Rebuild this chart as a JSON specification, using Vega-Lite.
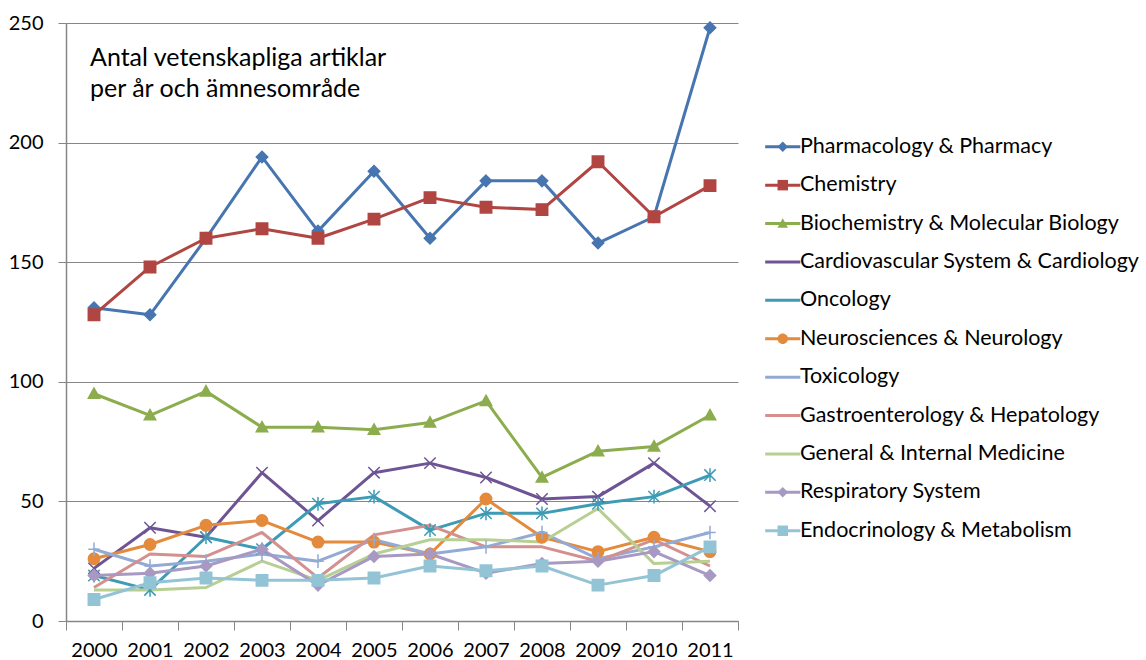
{
  "$schema": "https://vega.github.io/schema/vega-lite/v6.json",
  "width": 672,
  "height": 598,
  "autosize": {"type": "none"},
  "padding": {"left": 66, "top": 23, "right": 408, "bottom": 39},
  "background": "white",
  "config": {
    "font": "Lato",
    "view": {"stroke": null},
    "axis": {"labelFont": "Lato", "labelColor": "#000000", "labelFontSize": 20, "domainColor": "#868686", "tickColor": "#868686", "gridColor": "#868686", "title": null}
  },
  "title": {
    "text": ["Antal vetenskapliga artiklar", "per år och ämnesområde"],
    "anchor": "start",
    "frame": "group",
    "orient": "top",
    "baseline": "top",
    "offset": -11,
    "dx": 24,
    "dy": 78,
    "fontSize": 25,
    "fontWeight": "normal",
    "font": "Lato",
    "color": "#000000",
    "lineHeight": 31
  },
  "data": {
    "values": [
      {"serie": "Pharmacology & Pharmacy", "year": "2000", "value": 131},
      {"serie": "Pharmacology & Pharmacy", "year": "2001", "value": 128},
      {"serie": "Pharmacology & Pharmacy", "year": "2002", "value": 160},
      {"serie": "Pharmacology & Pharmacy", "year": "2003", "value": 194},
      {"serie": "Pharmacology & Pharmacy", "year": "2004", "value": 163},
      {"serie": "Pharmacology & Pharmacy", "year": "2005", "value": 188},
      {"serie": "Pharmacology & Pharmacy", "year": "2006", "value": 160},
      {"serie": "Pharmacology & Pharmacy", "year": "2007", "value": 184},
      {"serie": "Pharmacology & Pharmacy", "year": "2008", "value": 184},
      {"serie": "Pharmacology & Pharmacy", "year": "2009", "value": 158},
      {"serie": "Pharmacology & Pharmacy", "year": "2010", "value": 169},
      {"serie": "Pharmacology & Pharmacy", "year": "2011", "value": 248},
      {"serie": "Chemistry", "year": "2000", "value": 128},
      {"serie": "Chemistry", "year": "2001", "value": 148},
      {"serie": "Chemistry", "year": "2002", "value": 160},
      {"serie": "Chemistry", "year": "2003", "value": 164},
      {"serie": "Chemistry", "year": "2004", "value": 160},
      {"serie": "Chemistry", "year": "2005", "value": 168},
      {"serie": "Chemistry", "year": "2006", "value": 177},
      {"serie": "Chemistry", "year": "2007", "value": 173},
      {"serie": "Chemistry", "year": "2008", "value": 172},
      {"serie": "Chemistry", "year": "2009", "value": 192},
      {"serie": "Chemistry", "year": "2010", "value": 169},
      {"serie": "Chemistry", "year": "2011", "value": 182},
      {"serie": "Biochemistry & Molecular Biology", "year": "2000", "value": 95},
      {"serie": "Biochemistry & Molecular Biology", "year": "2001", "value": 86},
      {"serie": "Biochemistry & Molecular Biology", "year": "2002", "value": 96},
      {"serie": "Biochemistry & Molecular Biology", "year": "2003", "value": 81},
      {"serie": "Biochemistry & Molecular Biology", "year": "2004", "value": 81},
      {"serie": "Biochemistry & Molecular Biology", "year": "2005", "value": 80},
      {"serie": "Biochemistry & Molecular Biology", "year": "2006", "value": 83},
      {"serie": "Biochemistry & Molecular Biology", "year": "2007", "value": 92},
      {"serie": "Biochemistry & Molecular Biology", "year": "2008", "value": 60},
      {"serie": "Biochemistry & Molecular Biology", "year": "2009", "value": 71},
      {"serie": "Biochemistry & Molecular Biology", "year": "2010", "value": 73},
      {"serie": "Biochemistry & Molecular Biology", "year": "2011", "value": 86},
      {"serie": "Cardiovascular System & Cardiology", "year": "2000", "value": 22},
      {"serie": "Cardiovascular System & Cardiology", "year": "2001", "value": 39},
      {"serie": "Cardiovascular System & Cardiology", "year": "2002", "value": 35},
      {"serie": "Cardiovascular System & Cardiology", "year": "2003", "value": 62},
      {"serie": "Cardiovascular System & Cardiology", "year": "2004", "value": 42},
      {"serie": "Cardiovascular System & Cardiology", "year": "2005", "value": 62},
      {"serie": "Cardiovascular System & Cardiology", "year": "2006", "value": 66},
      {"serie": "Cardiovascular System & Cardiology", "year": "2007", "value": 60},
      {"serie": "Cardiovascular System & Cardiology", "year": "2008", "value": 51},
      {"serie": "Cardiovascular System & Cardiology", "year": "2009", "value": 52},
      {"serie": "Cardiovascular System & Cardiology", "year": "2010", "value": 66},
      {"serie": "Cardiovascular System & Cardiology", "year": "2011", "value": 48},
      {"serie": "Oncology", "year": "2000", "value": 19},
      {"serie": "Oncology", "year": "2001", "value": 13},
      {"serie": "Oncology", "year": "2002", "value": 35},
      {"serie": "Oncology", "year": "2003", "value": 30},
      {"serie": "Oncology", "year": "2004", "value": 49},
      {"serie": "Oncology", "year": "2005", "value": 52},
      {"serie": "Oncology", "year": "2006", "value": 38},
      {"serie": "Oncology", "year": "2007", "value": 45},
      {"serie": "Oncology", "year": "2008", "value": 45},
      {"serie": "Oncology", "year": "2009", "value": 49},
      {"serie": "Oncology", "year": "2010", "value": 52},
      {"serie": "Oncology", "year": "2011", "value": 61},
      {"serie": "Neurosciences & Neurology", "year": "2000", "value": 26},
      {"serie": "Neurosciences & Neurology", "year": "2001", "value": 32},
      {"serie": "Neurosciences & Neurology", "year": "2002", "value": 40},
      {"serie": "Neurosciences & Neurology", "year": "2003", "value": 42},
      {"serie": "Neurosciences & Neurology", "year": "2004", "value": 33},
      {"serie": "Neurosciences & Neurology", "year": "2005", "value": 33},
      {"serie": "Neurosciences & Neurology", "year": "2006", "value": 28},
      {"serie": "Neurosciences & Neurology", "year": "2007", "value": 51},
      {"serie": "Neurosciences & Neurology", "year": "2008", "value": 35},
      {"serie": "Neurosciences & Neurology", "year": "2009", "value": 29},
      {"serie": "Neurosciences & Neurology", "year": "2010", "value": 35},
      {"serie": "Neurosciences & Neurology", "year": "2011", "value": 29},
      {"serie": "Toxicology", "year": "2000", "value": 30},
      {"serie": "Toxicology", "year": "2001", "value": 23},
      {"serie": "Toxicology", "year": "2002", "value": 25},
      {"serie": "Toxicology", "year": "2003", "value": 28},
      {"serie": "Toxicology", "year": "2004", "value": 25},
      {"serie": "Toxicology", "year": "2005", "value": 34},
      {"serie": "Toxicology", "year": "2006", "value": 28},
      {"serie": "Toxicology", "year": "2007", "value": 31},
      {"serie": "Toxicology", "year": "2008", "value": 37},
      {"serie": "Toxicology", "year": "2009", "value": 26},
      {"serie": "Toxicology", "year": "2010", "value": 31},
      {"serie": "Toxicology", "year": "2011", "value": 37},
      {"serie": "Gastroenterology & Hepatology", "year": "2000", "value": 14},
      {"serie": "Gastroenterology & Hepatology", "year": "2001", "value": 28},
      {"serie": "Gastroenterology & Hepatology", "year": "2002", "value": 27},
      {"serie": "Gastroenterology & Hepatology", "year": "2003", "value": 37},
      {"serie": "Gastroenterology & Hepatology", "year": "2004", "value": 18},
      {"serie": "Gastroenterology & Hepatology", "year": "2005", "value": 36},
      {"serie": "Gastroenterology & Hepatology", "year": "2006", "value": 40},
      {"serie": "Gastroenterology & Hepatology", "year": "2007", "value": 31},
      {"serie": "Gastroenterology & Hepatology", "year": "2008", "value": 31},
      {"serie": "Gastroenterology & Hepatology", "year": "2009", "value": 25},
      {"serie": "Gastroenterology & Hepatology", "year": "2010", "value": 34},
      {"serie": "Gastroenterology & Hepatology", "year": "2011", "value": 23},
      {"serie": "General & Internal Medicine", "year": "2000", "value": 13},
      {"serie": "General & Internal Medicine", "year": "2001", "value": 13},
      {"serie": "General & Internal Medicine", "year": "2002", "value": 14},
      {"serie": "General & Internal Medicine", "year": "2003", "value": 25},
      {"serie": "General & Internal Medicine", "year": "2004", "value": 17},
      {"serie": "General & Internal Medicine", "year": "2005", "value": 28},
      {"serie": "General & Internal Medicine", "year": "2006", "value": 34},
      {"serie": "General & Internal Medicine", "year": "2007", "value": 34},
      {"serie": "General & Internal Medicine", "year": "2008", "value": 33},
      {"serie": "General & Internal Medicine", "year": "2009", "value": 47},
      {"serie": "General & Internal Medicine", "year": "2010", "value": 24},
      {"serie": "General & Internal Medicine", "year": "2011", "value": 25},
      {"serie": "Respiratory System", "year": "2000", "value": 19},
      {"serie": "Respiratory System", "year": "2001", "value": 20},
      {"serie": "Respiratory System", "year": "2002", "value": 23},
      {"serie": "Respiratory System", "year": "2003", "value": 30},
      {"serie": "Respiratory System", "year": "2004", "value": 15},
      {"serie": "Respiratory System", "year": "2005", "value": 27},
      {"serie": "Respiratory System", "year": "2006", "value": 28},
      {"serie": "Respiratory System", "year": "2007", "value": 20},
      {"serie": "Respiratory System", "year": "2008", "value": 24},
      {"serie": "Respiratory System", "year": "2009", "value": 25},
      {"serie": "Respiratory System", "year": "2010", "value": 29},
      {"serie": "Respiratory System", "year": "2011", "value": 19},
      {"serie": "Endocrinology & Metabolism", "year": "2000", "value": 9},
      {"serie": "Endocrinology & Metabolism", "year": "2001", "value": 16},
      {"serie": "Endocrinology & Metabolism", "year": "2002", "value": 18},
      {"serie": "Endocrinology & Metabolism", "year": "2003", "value": 17},
      {"serie": "Endocrinology & Metabolism", "year": "2004", "value": 17},
      {"serie": "Endocrinology & Metabolism", "year": "2005", "value": 18},
      {"serie": "Endocrinology & Metabolism", "year": "2006", "value": 23},
      {"serie": "Endocrinology & Metabolism", "year": "2007", "value": 21},
      {"serie": "Endocrinology & Metabolism", "year": "2008", "value": 23},
      {"serie": "Endocrinology & Metabolism", "year": "2009", "value": 15},
      {"serie": "Endocrinology & Metabolism", "year": "2010", "value": 19},
      {"serie": "Endocrinology & Metabolism", "year": "2011", "value": 31}
    ]
  },
  "encoding": {
    "x": {
      "field": "year",
      "type": "ordinal",
      "bandPosition": 0.5,
      "scale": {"type": "band", "paddingInner": 0, "paddingOuter": 0},
      "axis": {"labelAngle": 0, "tickBand": "extent", "tickSize": 9, "labelPadding": 10, "grid": false, "domainWidth": 1.5}
    },
    "y": {
      "field": "value",
      "type": "quantitative",
      "scale": {"domain": [0, 250]},
      "axis": {"values": [0, 50, 100, 150, 200, 250], "tickSize": 8, "labelPadding": 15, "grid": true, "gridWidth": 1, "domainWidth": 1.5}
    }
  },
  "resolve": {"legend": {"color": "independent", "shape": "independent"}},
  "layer": [
    {
      "mark": {"type": "line", "strokeWidth": 3, "strokeJoin": "round"},
      "encoding": {
        "color": {
          "field": "serie",
          "type": "nominal",
          "scale": {
            "domain": ["Pharmacology & Pharmacy", "Chemistry", "Biochemistry & Molecular Biology", "Cardiovascular System & Cardiology", "Oncology", "Neurosciences & Neurology", "Toxicology", "Gastroenterology & Hepatology", "General & Internal Medicine", "Respiratory System", "Endocrinology & Metabolism"],
            "range": ["#4775B0", "#B04542", "#8CAD4E", "#6E5494", "#3E9BB5", "#E38A3C", "#93AAD4", "#D4908F", "#B8CF93", "#A899C3", "#93C4D6"]
          },
          "legend": {
            "title": null,
            "orient": "none",
            "legendX": 706,
            "legendY": 113,
            "padding": 0,
            "rowPadding": 15.4,
            "labelFont": "Lato",
            "labelFontSize": 21.5,
            "labelColor": "#000000",
            "labelOpacity": 0,
            "labelLimit": 500,
            "labelOffset": 6.5,
            "symbolType": "M-3.35,0L3.35,0",
            "symbolSize": 110,
            "symbolOpacity": 1,
            "symbolStrokeWidth": 3,
            "zindex": 1
          }
        }
      }
    },
    {
      "mark": {"type": "point", "filled": true, "opacity": 1, "size": 130, "strokeWidth": 1.5},
      "encoding": {
        "color": {
          "field": "serie",
          "type": "nominal",
          "legend": {
            "title": null,
            "orient": "none",
            "legendX": 706,
            "legendY": 113,
            "padding": 0,
            "rowPadding": 15.4,
            "labelFont": "Lato",
            "labelFontSize": 21.5,
            "labelColor": "#000000",
            "labelLimit": 500,
            "labelOffset": 6.5,
            "symbolSize": 110,
            "symbolOpacity": 1,
            "symbolStrokeWidth": 1.5,
            "zindex": 2
          }
        },
        "shape": {
          "field": "serie",
          "type": "nominal",
          "scale": {
            "domain": ["Pharmacology & Pharmacy", "Chemistry", "Biochemistry & Molecular Biology", "Cardiovascular System & Cardiology", "Oncology", "Neurosciences & Neurology", "Toxicology", "Gastroenterology & Hepatology", "General & Internal Medicine", "Respiratory System", "Endocrinology & Metabolism"],
            "range": ["M0,-1L1,0L0,1L-1,0Z", "M-1,-1L1,-1L1,1L-1,1Z", "M0,-1L1,0.8L-1,0.8Z", "M-1,-1L1,1M-1,1L1,-1", "M-1,-1L1,1M-1,1L1,-1M0,-1.2L0,1.2", "M-1,0A1,1 0 1,0 1,0A1,1 0 1,0 -1,0Z", "M-1,0L1,0M0,-1.2L0,1.2", "M0,0Z", "M0,0Z", "M0,-1L1,0L0,1L-1,0Z", "M-1,-1L1,-1L1,1L-1,1Z"]
          },
          "legend": {
            "title": null,
            "orient": "none",
            "legendX": 706,
            "legendY": 113,
            "padding": 0,
            "rowPadding": 15.4,
            "labelFont": "Lato",
            "labelFontSize": 21.5,
            "labelColor": "#000000",
            "labelLimit": 500,
            "labelOffset": 6.5,
            "symbolSize": 110,
            "symbolOpacity": 1,
            "symbolStrokeWidth": 1.5,
            "zindex": 2
          }
        },
        "stroke": {"field": "serie", "type": "nominal", "scale": {"domain": ["Pharmacology & Pharmacy", "Chemistry", "Biochemistry & Molecular Biology", "Cardiovascular System & Cardiology", "Oncology", "Neurosciences & Neurology", "Toxicology", "Gastroenterology & Hepatology", "General & Internal Medicine", "Respiratory System", "Endocrinology & Metabolism"], "range": ["#4775B0", "#B04542", "#8CAD4E", "#6E5494", "#3E9BB5", "#E38A3C", "#93AAD4", "#D4908F", "#B8CF93", "#A899C3", "#93C4D6"]}, "legend": null}
      }
    }
  ]
}
